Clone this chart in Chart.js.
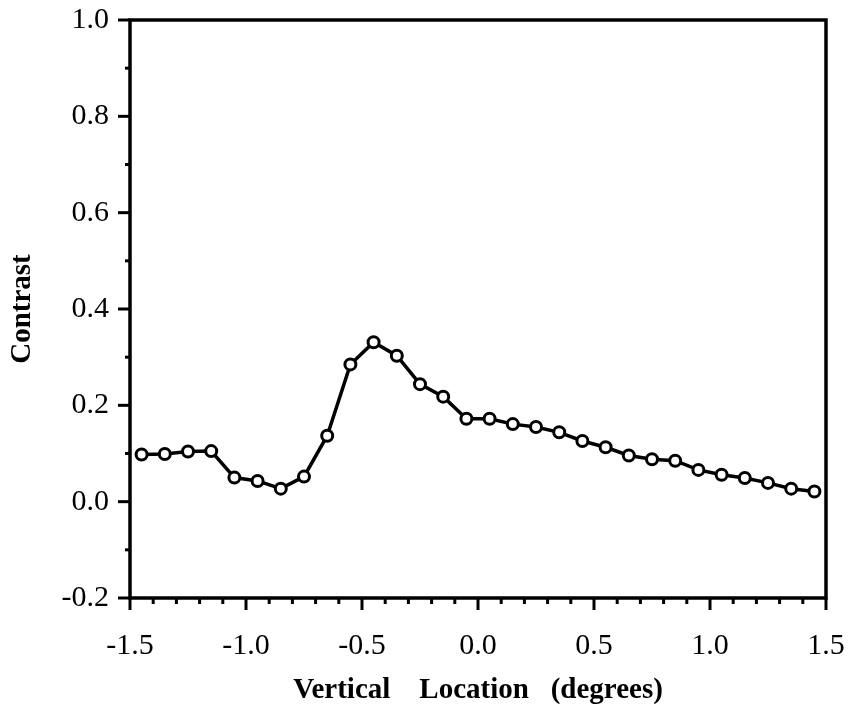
<!DOCTYPE html>
<html>
<head>
<meta charset="utf-8">
<script src="https://cdn.jsdelivr.net/npm/chart.js@4/dist/chart.umd.min.js"></script>
<style>
  html, body { margin: 0; padding: 0; background: #fff; }
  #wrap { width: 853px; height: 711px; }
</style>
</head>
<body>
<div id="wrap"><canvas id="contrastChart" width="853" height="711"></canvas></div>
<script>
// data
const locations = [-1.45, -1.35, -1.25, -1.15, -1.05, -0.95, -0.85, -0.75, -0.65, -0.55,
                   -0.45, -0.35, -0.25, -0.15, -0.05, 0.05, 0.15, 0.25, 0.35, 0.45,
                   0.55, 0.65, 0.75, 0.85, 0.95, 1.05, 1.15, 1.25, 1.35, 1.45];
const contrast = [0.098, 0.099, 0.104, 0.105, 0.050, 0.043, 0.027, 0.052, 0.137, 0.285,
                  0.331, 0.303, 0.244, 0.218, 0.172, 0.172, 0.161, 0.155, 0.144, 0.126,
                  0.113, 0.096, 0.088, 0.085, 0.066, 0.056, 0.049, 0.039, 0.027, 0.021];
const xLabels = ['-1.5', '-1.0', '-0.5', '0.0', '0.5', '1.0', '1.5'];
const yLabels = ['-0.2', '0.0', '0.2', '0.4', '0.6', '0.8', '1.0'];

const serif = "'Liberation Serif', 'DejaVu Serif', serif";

function isMajor(v, step) {
    return Math.abs(v / step - Math.round(v / step)) < 1e-6;
}

// box frame + outward ticks (long at labels, short in between)
const framePlugin = {
    id: 'frame',
    afterDraw(chart) {
        const ctx = chart.ctx;
        const a = chart.chartArea;
        const xs = chart.scales.x, ys = chart.scales.y;
        ctx.save();
        ctx.strokeStyle = '#000';
        ctx.lineWidth = 3.5;
        ctx.lineCap = 'square';
        ctx.strokeRect(a.left, a.top, a.right - a.left, a.bottom - a.top);
        ctx.lineCap = 'butt';
        ctx.lineWidth = 3;
        xs.ticks.forEach(t => {
            const px = xs.getPixelForValue(t.value);
            const len = isMajor(t.value, 0.5) ? 12 : 6;
            ctx.beginPath();
            ctx.moveTo(px, a.bottom);
            ctx.lineTo(px, a.bottom + len);
            ctx.stroke();
        });
        ys.ticks.forEach(t => {
            const py = ys.getPixelForValue(t.value);
            const len = isMajor(t.value, 0.2) ? 12 : 5;
            ctx.beginPath();
            ctx.moveTo(a.left, py);
            ctx.lineTo(a.left - len, py);
            ctx.stroke();
        });
        ctx.restore();
    }
};

new Chart(document.getElementById('contrastChart').getContext('2d'), {
    type: 'scatter',
    data: {
        datasets: [{
            data: locations.map((x, i) => ({ x: x, y: contrast[i] })),
            showLine: true,
            borderColor: '#000',
            borderWidth: 3.5,
            pointRadius: 5.5,
            pointBackgroundColor: '#fff',
            pointBorderColor: '#000',
            pointBorderWidth: 3
        }]
    },
    options: {
        responsive: false,
        animation: false,
        layout: { padding: { top: 20, right: 27, left: 0, bottom: 3 } },
        plugins: {
            legend: { display: false },
            tooltip: { enabled: false }
        },
        scales: {
            x: {
                type: 'linear',
                min: -1.5,
                max: 1.5,
                afterFit: s => { s.height = 110; s.paddingLeft = 0; s.paddingRight = 0; },
                border: { display: false },
                grid: { drawOnChartArea: false, tickLength: 12, color: 'transparent' },
                ticks: {
                    stepSize: 0.1,
                    autoSkip: false,
                    maxRotation: 0,
                    color: '#000',
                    padding: 18,
                    font: { family: serif, size: 30 },
                    callback: v => isMajor(v, 0.5) ? xLabels[Math.round((v + 1.5) / 0.5)] : ''
                },
                title: {
                    display: true,
                    text: 'Vertical    Location   (degrees)',
                    color: '#000',
                    font: { family: serif, size: 29, weight: 'bold' },
                    padding: { top: 0, bottom: 0 }
                }
            },
            y: {
                min: -0.2,
                max: 1.0,
                afterFit: s => { s.width = 130; s.paddingTop = 0; s.paddingBottom = 0; },
                border: { display: false },
                grid: { drawOnChartArea: false, tickLength: 12, color: 'transparent' },
                ticks: {
                    stepSize: 0.1,
                    autoSkip: false,
                    color: '#000',
                    padding: 9,
                    font: { family: serif, size: 30 },
                    callback: v => isMajor(v, 0.2) ? yLabels[Math.round((v + 0.2) / 0.2)] : ''
                },
                title: {
                    display: true,
                    text: 'Contrast',
                    color: '#000',
                    font: { family: serif, size: 29, weight: 'bold' },
                    padding: { top: 5, bottom: 0 }
                }
            }
        }
    },
    plugins: [framePlugin]
});
</script>
</body>
</html>
